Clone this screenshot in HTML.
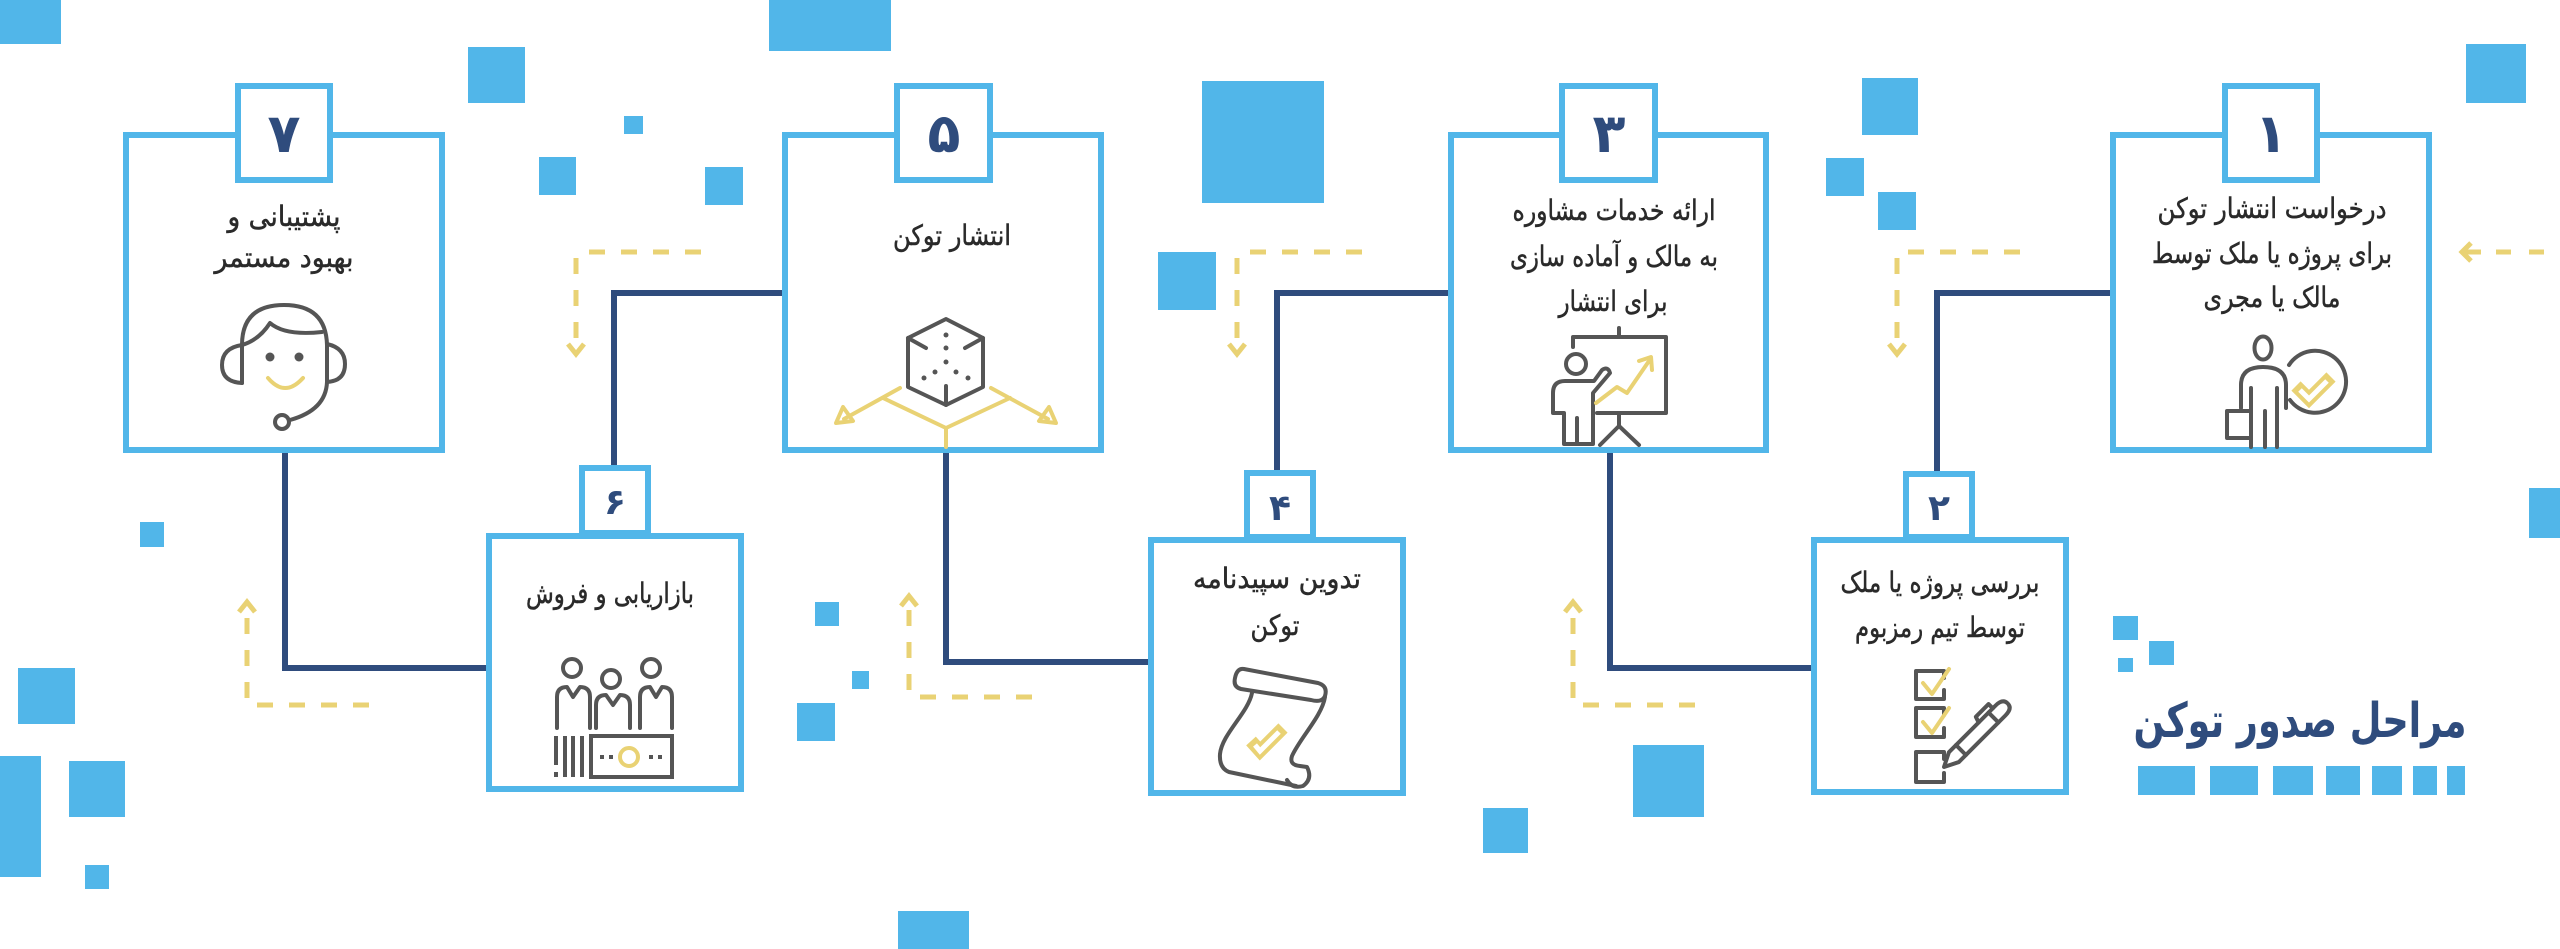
<!DOCTYPE html>
<html><head><meta charset="utf-8">
<style>
html,body{margin:0;padding:0;background:#fff;}
svg{display:block;}
text{font-family:"DejaVu Sans","Liberation Sans",sans-serif;}
</style></head><body>
<svg width="2560" height="949" viewBox="0 0 2560 949" xmlns="http://www.w3.org/2000/svg">
<rect width="2560" height="949" fill="#fff"/>
<!-- decorative squares -->
<g fill="#51b6e9">
<rect x="0" y="0" width="61" height="44"/>
<rect x="769" y="0" width="122" height="51"/>
<rect x="468" y="47" width="57" height="56"/>
<rect x="624" y="116" width="19" height="18"/>
<rect x="539" y="157" width="37" height="38"/>
<rect x="705" y="167" width="38" height="38"/>
<rect x="1202" y="81" width="122" height="122"/>
<rect x="1158" y="252" width="58" height="58"/>
<rect x="1862" y="78" width="56" height="57"/>
<rect x="1826" y="158" width="38" height="38"/>
<rect x="1878" y="192" width="38" height="38"/>
<rect x="2466" y="44" width="60" height="59"/>
<rect x="2529" y="488" width="31" height="50"/>
<rect x="140" y="522" width="24" height="25"/>
<rect x="18" y="668" width="57" height="56"/>
<rect x="0" y="756" width="41" height="121"/>
<rect x="69" y="761" width="56" height="56"/>
<rect x="85" y="865" width="24" height="24"/>
<rect x="815" y="602" width="24" height="24"/>
<rect x="852" y="671" width="17" height="18"/>
<rect x="797" y="703" width="38" height="38"/>
<rect x="898" y="911" width="71" height="38"/>
<rect x="1633" y="745" width="71" height="72"/>
<rect x="1483" y="808" width="45" height="45"/>
<rect x="2113" y="616" width="25" height="24"/>
<rect x="2149" y="641" width="25" height="24"/>
<rect x="2118" y="658" width="15" height="14"/>
<rect x="2138" y="766" width="57" height="29"/>
<rect x="2210" y="766" width="48" height="29"/>
<rect x="2273" y="766" width="40" height="29"/>
<rect x="2326" y="766" width="34" height="29"/>
<rect x="2372" y="766" width="30" height="29"/>
<rect x="2413" y="766" width="24" height="29"/>
<rect x="2447" y="766" width="18" height="29"/>
</g>

<!-- connectors -->
<g stroke="#2f4c7d" stroke-width="6" fill="none" stroke-linejoin="miter">
<path d="M2110 293 H1937 V471"/>
<path d="M1811 668 H1610 V453"/>
<path d="M1448 293 H1277 V470"/>
<path d="M1148 662 H946 V453"/>
<path d="M782 293 H614 V465"/>
<path d="M486 668 H285 V453"/>
</g>

<!-- yellow dashed arrows -->
<g stroke="#e9d274" stroke-width="5" fill="none" stroke-dasharray="16 16">
<path d="M1908 252 H2020"/><path d="M1897 258 V338"/>
<path d="M1250 252 H1362"/><path d="M1237 258 V338"/>
<path d="M589 252 H701"/><path d="M576 258 V338"/>
<path d="M1583 705 H1695"/><path d="M1573 698 V618"/>
<path d="M920 697 H1032"/><path d="M909 690 V610"/>
<path d="M257 705 H369"/><path d="M247 698 V618"/>
<path d="M2496 252 H2544" stroke-dasharray="15 18"/>
</g>
<g stroke="#e9d274" stroke-width="5" fill="none" stroke-linejoin="miter">
<polyline points="1889,344 1897,354 1905,344"/>
<polyline points="1229,344 1237,354 1245,344"/>
<polyline points="568,344 576,354 584,344"/>
<polyline points="1565,612 1573,602 1581,612"/>
<polyline points="901,606 909,596 917,606"/>
<polyline points="239,612 247,602 255,612"/>
<polyline points="2471,243 2462,252 2471,261"/>
<path d="M2463 252 H2481"/>
</g>

<!-- boxes -->
<g stroke="#51b6e9" stroke-width="6" fill="none">
<rect x="2113" y="135" width="316" height="315"/>
<rect x="1451" y="135" width="315" height="315"/>
<rect x="785" y="135" width="316" height="315"/>
<rect x="126" y="135" width="316" height="315"/>
<rect x="1814" y="540" width="252" height="252"/>
<rect x="1151" y="540" width="252" height="253"/>
<rect x="489" y="536" width="252" height="253"/>
</g>
<g stroke="#51b6e9" stroke-width="6" fill="#fff">
<rect x="2225" y="86" width="92" height="94"/>
<rect x="1562" y="86" width="93" height="94"/>
<rect x="897" y="86" width="93" height="94"/>
<rect x="238" y="86" width="92" height="94"/>
<rect x="1906" y="474" width="66" height="63"/>
<rect x="1247" y="473" width="66" height="64"/>
<rect x="582" y="468" width="66" height="65"/>
</g>

<!-- digits -->
<g fill="#2f4c7d" font-weight="bold" text-anchor="middle">
<text x="2271" y="152" font-size="54">۱</text>
<text x="1609" y="152" font-size="54">۳</text>
<text x="944" y="152" font-size="54">۵</text>
<text x="284" y="152" font-size="54">۷</text>
<text x="1939" y="520" font-size="36">۲</text>
<text x="1280" y="520" font-size="36">۴</text>
<text x="615" y="514" font-size="36">۶</text>
</g>

<!-- box texts -->
<g fill="#2a2a2a" stroke="#2a2a2a" stroke-width="0.5" font-size="28" text-anchor="middle">
<text x="2272" y="218" textLength="229" lengthAdjust="spacingAndGlyphs">درخواست انتشار توکن</text>
<text x="2272" y="263" textLength="240" lengthAdjust="spacingAndGlyphs">برای پروژه یا ملک توسط</text>
<text x="2272" y="307" textLength="137" lengthAdjust="spacingAndGlyphs">مالک یا مجری</text>

<text x="1614" y="220" textLength="203" lengthAdjust="spacingAndGlyphs">ارائه خدمات مشاوره</text>
<text x="1614" y="266" textLength="208" lengthAdjust="spacingAndGlyphs">به مالک و آماده سازی</text>
<text x="1613" y="311" textLength="109" lengthAdjust="spacingAndGlyphs">برای انتشار</text>

<text x="952" y="245" textLength="118" lengthAdjust="spacingAndGlyphs">انتشار توکن</text>

<text x="284" y="226" textLength="113" lengthAdjust="spacingAndGlyphs">پشتیبانی و</text>
<text x="284" y="267" textLength="139" lengthAdjust="spacingAndGlyphs">بهبود مستمر</text>

<text x="1940" y="592" textLength="199" lengthAdjust="spacingAndGlyphs">بررسی پروژه یا ملک</text>
<text x="1940" y="637" textLength="170" lengthAdjust="spacingAndGlyphs">توسط تیم رمزبوم</text>

<text x="1277" y="588" textLength="168" lengthAdjust="spacingAndGlyphs">تدوین سپیدنامه</text>
<text x="1275" y="635" textLength="49" lengthAdjust="spacingAndGlyphs">توکن</text>

<text x="610" y="603" textLength="168" lengthAdjust="spacingAndGlyphs">بازاریابی و فروش</text>
</g>

<!-- title -->
<text x="2300" y="737" font-size="48" font-weight="bold" fill="#2f4c7d" text-anchor="middle" textLength="333" lengthAdjust="spacingAndGlyphs">مراحل صدور توکن</text>

<!-- ICONS -->
<g stroke="#555" stroke-width="4" fill="none" stroke-linecap="round" stroke-linejoin="round">
<!-- icon 1 -->
<ellipse cx="2263" cy="348" rx="8.5" ry="11.5"/>
<path d="M2241 408 V385 Q2241 367 2263 367 Q2286 367 2286 385 V408"/>
<path d="M2251 388 V447 M2265 411 V447 M2277 388 V447"/>
<rect x="2227" y="411" width="24" height="27"/>
<path d="M2289 365 A31 31 0 1 1 2290 400"/>
<!-- icon 2 -->
<path d="M1944 678 V671 H1916 V699 H1944 V690"/>
<path d="M1944 715 V708 H1916 V737 H1944 V728"/>
<path d="M1944 759 V752 H1916 V782 H1944 V773"/>
<g transform="translate(1944,767) rotate(-45)">
<path d="M0 0 L14 -7 H80 Q90 -7 90 0 Q90 7 80 7 H14 Z"/>
<path d="M24 -7 V7 M70 -7 V7 M56 -7 L58 -13 H76 V-7"/>
</g>
<!-- icon 3 -->
<path d="M1573 347 V337 H1666 V413 H1597"/>
<path d="M1619 328 V337 M1619 413 V426 L1600 445 M1619 426 L1639 445"/>
<circle cx="1576" cy="364" r="10"/>
<path d="M1564 444 V413 H1553 V393 Q1553 381 1565 381 H1594 L1602 370 Q1608 366 1610 373 L1593 393 V444 H1577 V418 M1577 418 V444 H1564"/>
<!-- icon 4 -->
<path d="M1244 669 L1318 683 Q1328 686 1325 696 Q1322 703 1311 700 L1241 689 Q1233 687 1235 678 Q1237 668 1244 669 Z"/>
<path d="M1325 697 C1322 716 1300 738 1292 756 Q1289 765 1300 766 L1307 767 Q1313 779 1303 786 Q1292 789 1287 780"/>
<path d="M1252 693 C1248 713 1222 734 1220 754 Q1219 768 1229 772 L1296 786"/>
<!-- icon 5 -->
<path d="M946 319 L983 338 V387 L946 405 L908 387 V338 Z"/>
<path d="M908 338 L926 348 M983 338 L965 348 M946 405 V386"/>
<!-- icon 6 -->
<circle cx="572" cy="668" r="9"/><circle cx="611" cy="679" r="9"/><circle cx="651" cy="668" r="9"/>
<path d="M557 728 V697 Q557 687 567 687 L573 697 L580 687 Q590 687 590 697 V728"/>
<path d="M596 728 V705 Q596 695 606 695 L613 705 L620 695 Q630 695 630 705 V728"/>
<path d="M640 728 V697 Q640 687 650 687 L656 697 L662 687 Q672 687 672 697 V728"/>
<path d="M556 736 V765 M556 772 V777 M565 736 V777 M573 736 V777 M582 736 V777" stroke-linecap="butt"/>
<rect x="591" y="736" width="81" height="41" stroke-linejoin="miter"/>
<!-- icon 7 -->
<path d="M242 383 V345 Q242 305 284 305 Q326 305 327 345 V382 Q326 410 290 420"/>
<path d="M242 345 Q259 340 270 323 Q285 336 322 332"/>
<path d="M242 345 Q222 348 222 365 Q222 382 242 383"/>
<path d="M327 344 Q345 348 345 364 Q345 381 327 382"/>
<circle cx="282" cy="422" r="7"/>
</g>
<g fill="#555">
<circle cx="946" cy="335" r="2.5"/><circle cx="946" cy="348" r="2.5"/><circle cx="946" cy="362" r="2.5"/>
<circle cx="935" cy="372" r="2.5"/><circle cx="924" cy="378" r="2.5"/><circle cx="956" cy="372" r="2.5"/><circle cx="968" cy="378" r="2.5"/>
<rect x="600" y="755" width="4" height="4"/><rect x="609" y="755" width="4" height="4"/>
<rect x="649" y="755" width="4" height="4"/><rect x="658" y="755" width="4" height="4"/>
<circle cx="270" cy="357" r="4.5"/><circle cx="299" cy="357" r="4.5"/>
</g>
<!-- yellow accents -->
<g stroke="#e9d274" fill="none" stroke-linejoin="miter">
<polyline points="2296,386 2309,399 2331,377" stroke-width="13"/>
<polyline points="1251,741 1260,751 1283,728" stroke-width="13"/>
</g>
<g stroke="#fff" fill="none" stroke-linejoin="miter">
<polyline points="2300,390 2309,399 2327,381" stroke-width="5"/>
<polyline points="1255,745 1260,751 1279,732" stroke-width="5"/>
</g>
<g stroke="#e9d274" stroke-width="4" fill="none" stroke-linecap="round" stroke-linejoin="round">
<polyline points="1923,683 1932,694 1949,669"/>
<polyline points="1923,722 1932,733 1949,708"/>
<polyline points="1596,403 1617,387 1627,393 1649,361"/>
<polyline points="1639,361 1651,357 1652,370"/>
<path d="M946 447 V428 M883 398 L946 428 L1010 398"/>
<path d="M900 388 L844 419 M991 388 L1048 419"/>
<path d="M836 423 L843 407 L853 421 Z M1056 423 L1049 407 L1039 421 Z"/>
<circle cx="629" cy="757" r="9"/>
<path d="M268 378 Q285 398 303 378"/>
</g>
</svg>
</body></html>
